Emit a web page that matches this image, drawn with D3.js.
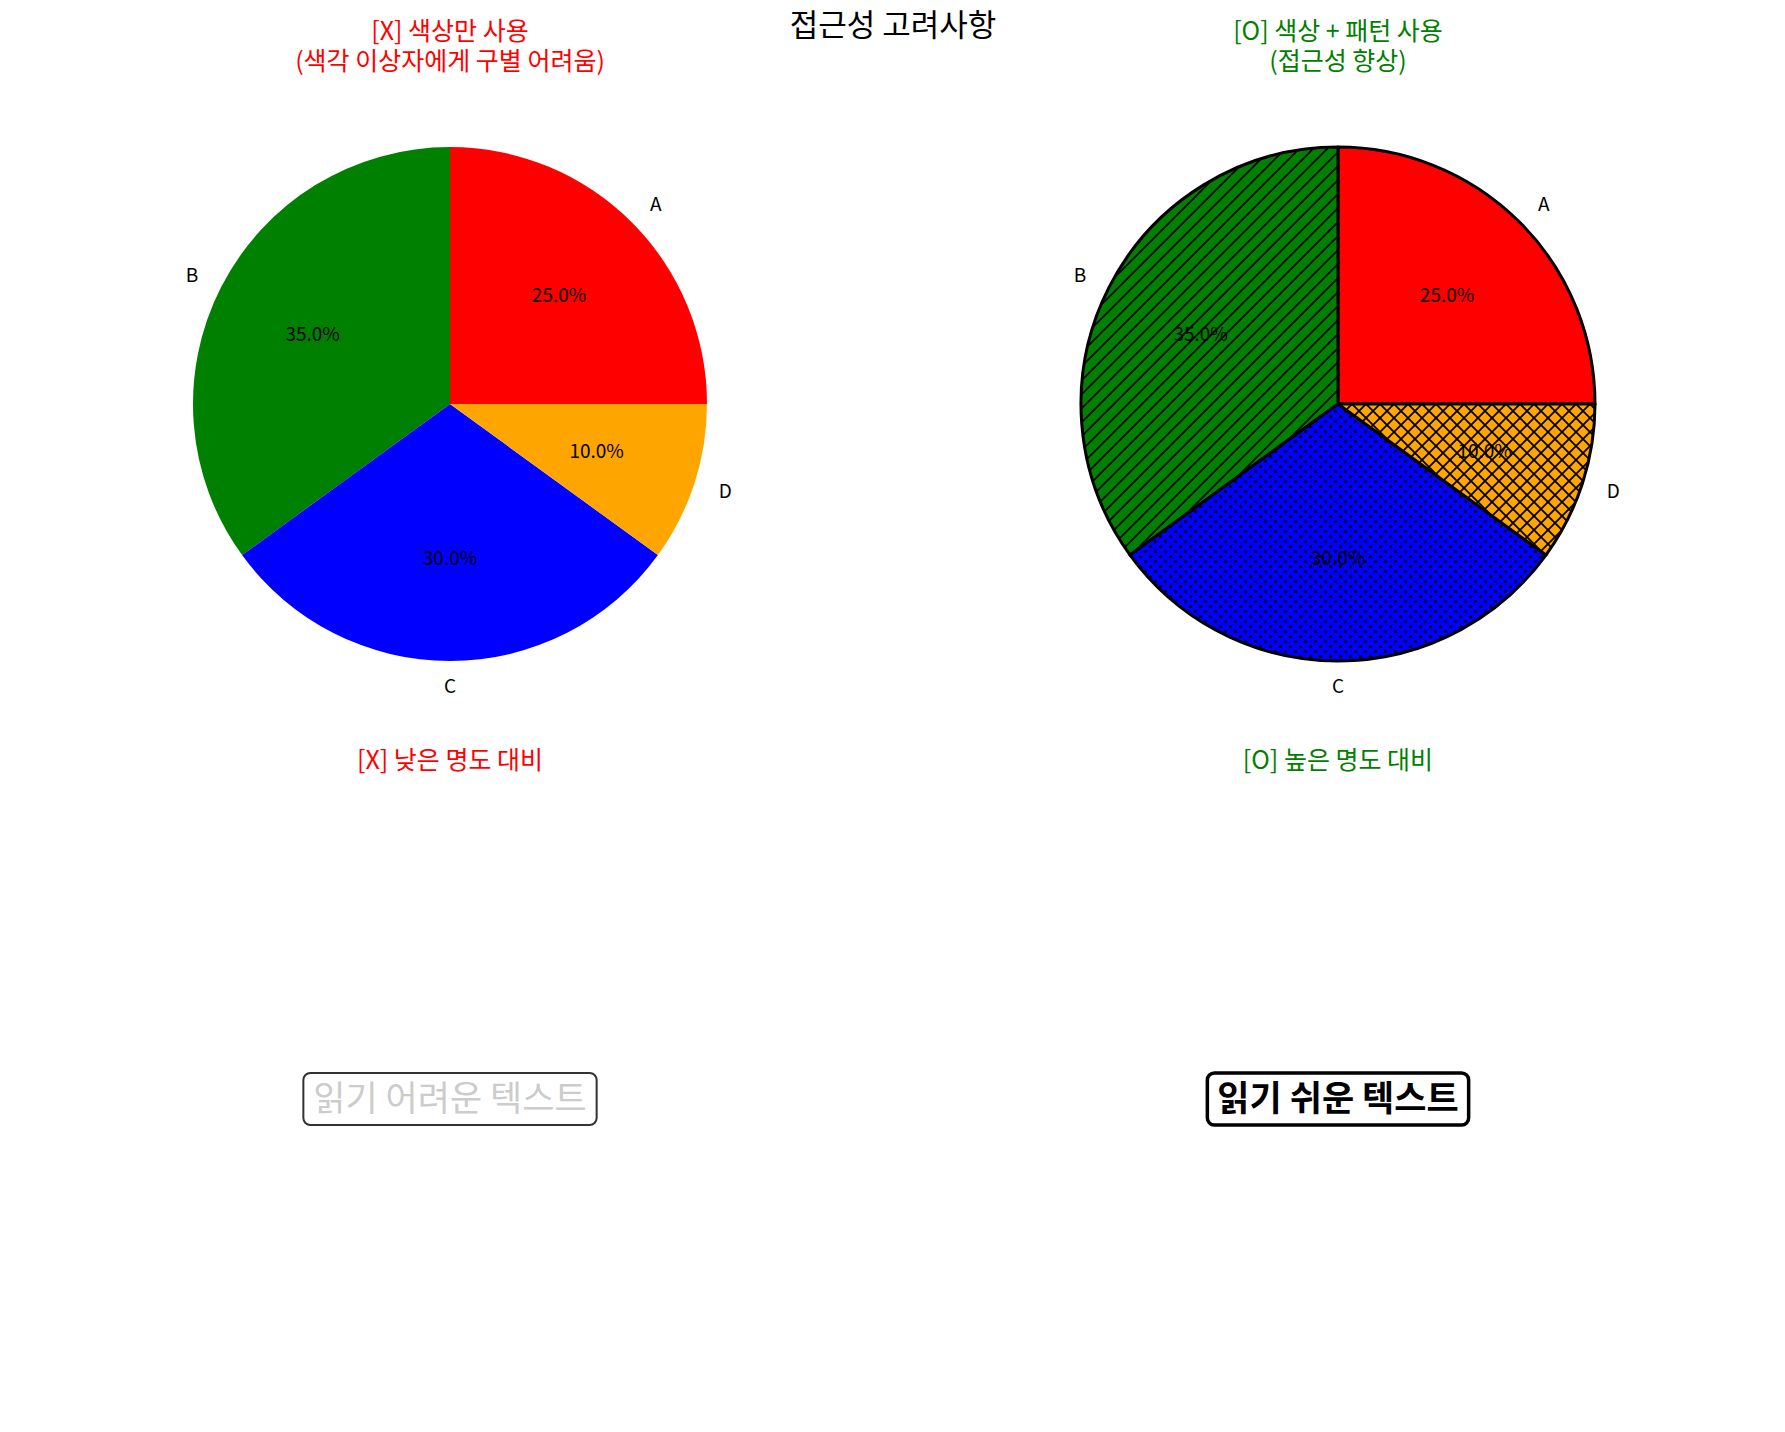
<!DOCTYPE html>
<html><head><meta charset="utf-8">
<script src="https://cdn.jsdelivr.net/npm/d3@7"></script>
<style>body{margin:0;background:#fff}text{font-family:"Noto Sans CJK KR","Noto Sans",sans-serif}</style>
</head><body>
<script>
var categories = ['A', 'B', 'C', 'D']
var values = [25, 35, 30, 10]
var colors = ['red', 'green', 'blue', 'orange']
var hatches = [null, 'diag', 'dots', 'cross']

var W = 1785, H = 1432, R = 257
var svg = d3.select('body').append('svg').attr('width', W).attr('height', H)
var defs = svg.append('defs')

// hatch patterns
colors.forEach(function (c, i) {
    var h = hatches[i]
    if (!h) return
    var p = defs.append('pattern').attr('id', 'h' + i).attr('patternUnits', 'userSpaceOnUse')
    if (h == 'diag') {
        p.attr('width', 14).attr('height', 14)
        p.append('rect').attr('width', 14).attr('height', 14).attr('fill', c)
        p.append('path').attr('d', 'M-2,16 L16,-2 M-2,2 L2,-2 M12,16 L16,12').attr('stroke', '#000').attr('stroke-width', 1.6)
    } else if (h == 'dots') {
        p.attr('width', 10).attr('height', 10)
        p.append('rect').attr('width', 10).attr('height', 10).attr('fill', c)
        p.append('circle').attr('cx', 2.5).attr('cy', 2.5).attr('r', 1.6).attr('fill', '#000')
        p.append('circle').attr('cx', 7.5).attr('cy', 7.5).attr('r', 1.6).attr('fill', '#000')
    } else {
        p.attr('width', 14).attr('height', 14)
        p.append('rect').attr('width', 14).attr('height', 14).attr('fill', c)
        p.append('path').attr('d', 'M0,0 L14,14 M14,0 L0,14').attr('stroke', '#000').attr('stroke-width', 1.8)
    }
})

var pie = d3.pie().sort(null).startAngle(Math.PI / 2).endAngle(Math.PI / 2 - 2 * Math.PI)
var arcs = pie(values)
var arc = d3.arc().innerRadius(0).outerRadius(R)
var pctArc = d3.arc().innerRadius(R * 0.6).outerRadius(R * 0.6)
var lblArc = d3.arc().innerRadius(R * 1.1).outerRadius(R * 1.1)

function drawPie(cx, cy, patterned) {
    var g = svg.append('g').attr('transform', 'translate(' + cx + ',' + cy + ')')
    g.selectAll('path').data(arcs).enter().append('path')
        .attr('d', arc)
        .attr('fill', function (d, i) { return patterned && hatches[i] ? 'url(#h' + i + ')' : colors[i] })
        .attr('stroke', patterned ? '#000' : 'none')
        .attr('stroke-width', 3).attr('stroke-linejoin', 'round')
    g.selectAll('.pct').data(arcs).enter().append('text')
        .attr('transform', function (d) { return 'translate(' + pctArc.centroid(d) + ')' })
        .attr('text-anchor', 'middle').attr('dy', '0.35em').attr('font-size', 19)
        .text(function (d) { return d.value.toFixed(1) + '%' })
    g.selectAll('.lbl').data(arcs).enter().append('text')
        .attr('transform', function (d) { return 'translate(' + lblArc.centroid(d) + ')' })
        .attr('text-anchor', function (d) {
            var a = (d.startAngle + d.endAngle) / 2
            return Math.sin(a) > 0.01 ? 'start' : (Math.sin(a) < -0.01 ? 'end' : 'middle')
        })
        .attr('dy', '0.35em').attr('font-size', 19)
        .text(function (d, i) { return categories[i] })
}

function title(x, y, lines, color) {
    var t = svg.append('text').attr('x', x).attr('y', y).attr('text-anchor', 'middle')
        .attr('font-size', 25).attr('fill', color)
    lines.forEach(function (l, i) { t.append('tspan').attr('x', x).attr('dy', i ? 30 : 0).text(l) })
}

svg.append('text').attr('x', 893).attr('y', 36).attr('text-anchor', 'middle').attr('font-size', 31).text('접근성 고려사항')
title(450, 40, ['[X] 색상만 사용', '(색각 이상자에게 구별 어려움)'], 'red')
title(1338, 40, ['[O] 색상 + 패턴 사용', '(접근성 향상)'], 'green')
drawPie(450, 404, false)
drawPie(1338, 404, true)
title(450, 769, ['[X] 낮은 명도 대비'], 'red')
title(1338, 769, ['[O] 높은 명도 대비'], 'green')

function box(cx, cy, txt, color, bold, stroke, sw) {
    var t = svg.append('text').attr('x', cx).attr('y', cy).attr('text-anchor', 'middle').attr('dy', '0.35em')
        .attr('font-size', 35).attr('font-weight', bold ? 'bold' : 'normal').attr('fill', color).text(txt)
    var b = t.node().getBBox()
    svg.insert('rect', function () { return t.node() })
        .attr('x', b.x - 10).attr('y', cy - 26).attr('width', b.width + 20).attr('height', 52)
        .attr('rx', 7).attr('fill', '#fff').attr('stroke', stroke).attr('stroke-width', sw)
}
box(450, 1099, '읽기 어려운 텍스트', '#cccccc', false, '#333', 2)
box(1338, 1099, '읽기 쉬운 텍스트', '#000', true, '#000', 3.5)
</script>
</body></html>
